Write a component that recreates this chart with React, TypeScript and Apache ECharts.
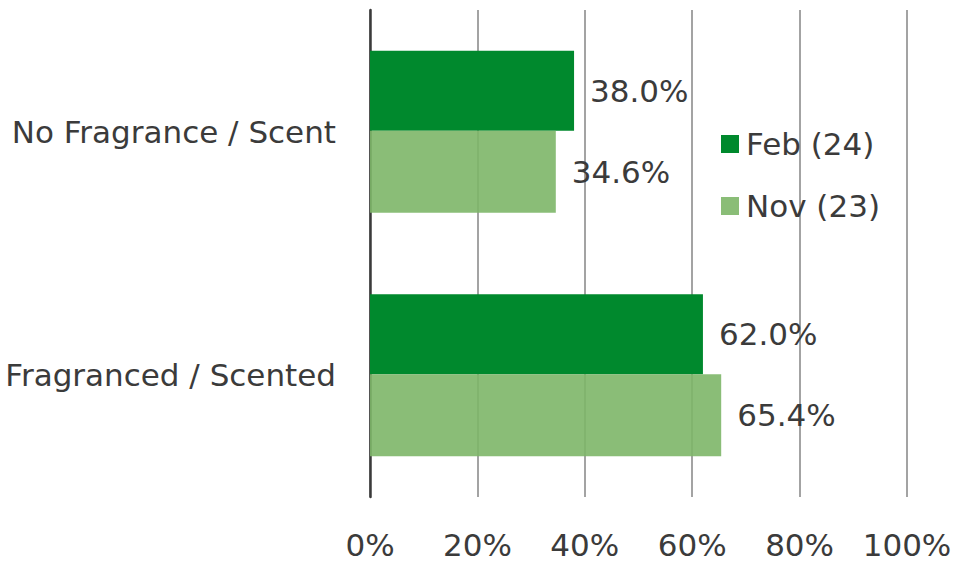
import React, { useEffect, useRef } from "react";
import * as echarts from "echarts";

const categories = ["No Fragrance / Scent", "Fragranced / Scented"];
const seriesNames = ["Feb (24)", "Nov (23)"];
const febValues = [38.0, 62.0];
const novValues = [34.6, 65.4];
const xTicks = [0, 20, 40, 60, 80, 100];

const FONT = "DejaVu Sans";
const TEXT = "#3b3b3b";
const FS = 31;

export default function App() {
  const ref = useRef<HTMLDivElement>(null);
  useEffect(() => {
    if (!ref.current) return;
    const chart = echarts.init(ref.current, null, { renderer: "svg" });
    const label = {
      show: true,
      position: "right",
      distance: 16,
      fontFamily: FONT,
      fontSize: FS,
      color: TEXT,
      formatter: (p: any) => Number(p.value).toFixed(1) + "%",
    };
    chart.setOption({
      animation: false,
      textStyle: { fontFamily: FONT },
      grid: { left: 370, right: 50, top: 10, bottom: 67, containLabel: false },
      legend: {
        orient: "vertical",
        left: 716,
        top: 121,
        icon: "rect",
        itemWidth: 18,
        itemHeight: 18,
        itemGap: 26,
        data: seriesNames,
        textStyle: { fontFamily: FONT, fontSize: FS, color: TEXT, lineHeight: 36, padding: [0, 0, 0, 2] },
      },
      xAxis: {
        type: "value",
        min: xTicks[0],
        max: xTicks[xTicks.length - 1],
        interval: 20,
        axisLine: { show: false },
        axisTick: { show: false },
        axisLabel: {
          formatter: "{value}%",
          fontFamily: FONT,
          fontSize: FS,
          color: TEXT,
          margin: 32,
        },
        splitLine: { show: true, lineStyle: { color: "#a3a3a3", width: 2 } },
      },
      yAxis: {
        type: "category",
        data: categories,
        inverse: true,
        axisLine: { show: true, lineStyle: { color: "#3a3a3a", width: 2.5 } },
        axisTick: { show: false },
        axisLabel: { fontFamily: FONT, fontSize: FS, color: TEXT, margin: 34 },
      },
      series: [
        {
          name: seriesNames[0],
          type: "bar",
          data: febValues,
          barWidth: 80,
          barGap: "0%",
          itemStyle: { color: "#00892d" },
          label,
        },
        {
          name: seriesNames[1],
          type: "bar",
          data: novValues,
          barWidth: 82,
          barGap: "0%",
          itemStyle: { color: "rgba(125,182,104,0.9)" },
          label,
        },
      ],
    });
    return () => chart.dispose();
  }, []);
  return <div ref={ref} style={{ width: 957, height: 564, position: "absolute", left: 0, top: 0 }} />;
}
